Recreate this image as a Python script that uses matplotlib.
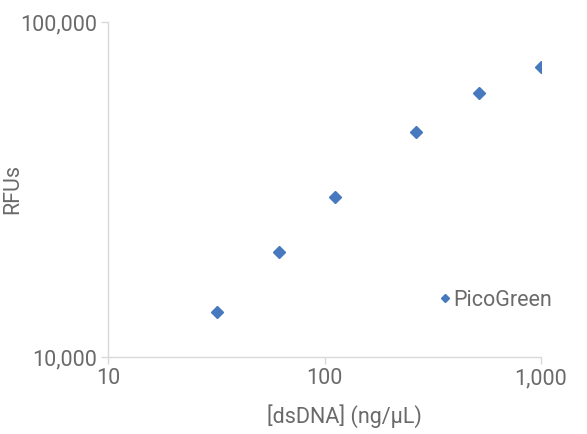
import matplotlib.pyplot as plt
from matplotlib.ticker import FixedLocator, NullLocator

# data
dsdna = [32, 61.5, 112, 265, 515, 1000]
rfus = [13600, 20600, 30100, 46800, 61300, 73300]
series_name = 'PicoGreen'
xticks = [10, 100, 1000]
xtick_labels = ['10', '100', '1,000']
yticks = [10000, 100000]
ytick_labels = ['10,000', '100,000']

plt.rcParams['font.family'] = ['Roboto', 'DejaVu Sans']
txt = '#6a6a6a'
axc = '#d9d9d9'
blue = '#4679bd'

fig = plt.figure(figsize=(5.87, 4.34), dpi=100)
ax = fig.add_axes([108/587, 1-357/434, (541-108)/587, (357-22)/434])

ax.plot(dsdna, rfus, linestyle='none', marker='D', markersize=6.2,
        color=blue, label=series_name)

ax.set_xscale('log')
ax.set_yscale('log')
ax.set_xlim(10, 1000)
ax.set_ylim(10000, 100000)

ax.xaxis.set_major_locator(FixedLocator(xticks))
ax.xaxis.set_minor_locator(NullLocator())
ax.set_xticklabels(xtick_labels)
ax.yaxis.set_major_locator(FixedLocator(yticks))
ax.yaxis.set_minor_locator(NullLocator())
ax.set_yticklabels(ytick_labels)

for s in ['top', 'right']:
    ax.spines[s].set_visible(False)
for s in ['left', 'bottom']:
    ax.spines[s].set_color(axc)
    ax.spines[s].set_linewidth(1)
ax.tick_params(axis='both', colors=axc, labelcolor=txt, labelsize=15.5,
               length=5, width=1)
ax.tick_params(axis='x', pad=3)
ax.tick_params(axis='y', pad=3)

ax.set_xlabel('[dsDNA] (ng/μL)', color=txt, fontsize=15.5)
ax.xaxis.set_label_coords(0.545, -0.14)
ax.set_ylabel('RFUs', color=txt, fontsize=15.5)
ax.yaxis.set_label_coords(-0.195, 0.5)

leg = ax.legend(loc='center left', bbox_to_anchor=(0.74, 0.17), frameon=False,
                fontsize=15.5, handlelength=0.5, handletextpad=0.15,
                markerscale=0.6, labelcolor=txt, borderpad=0)

fig.savefig('out.png', dpi=100)
